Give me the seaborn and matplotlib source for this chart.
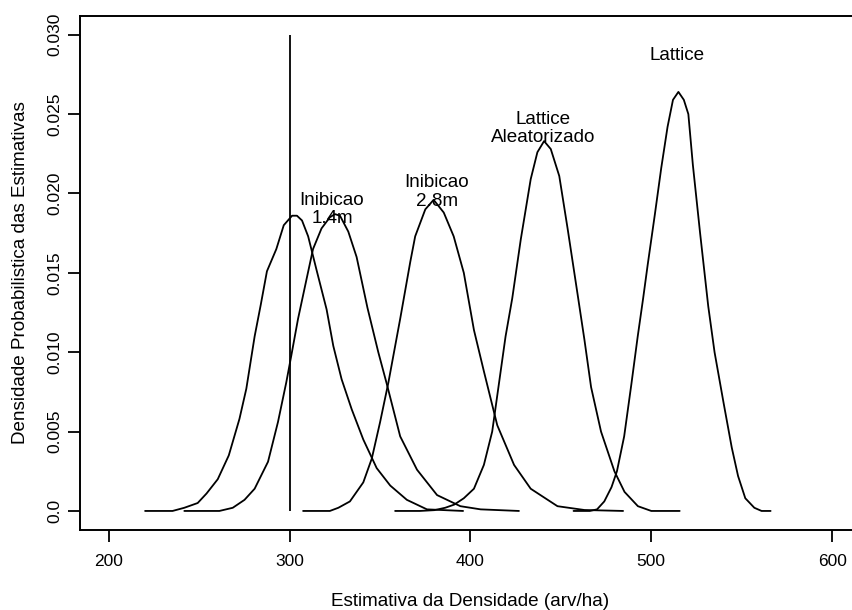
import matplotlib
matplotlib.use("Agg")
import matplotlib.pyplot as plt
import seaborn as sns
import pandas as pd

# Density curves of the estimates (x = arv/ha, y = probability density)
x_ref = [220.0, 235.2, 241.7, 249.1, 254.0, 260.2, 266.3, 272.2, 276.0, 280.6, 284.0,
         287.4, 292.6, 296.7, 301.3, 304.0, 306.8, 310.2, 314.8, 320.4, 324.1, 328.7,
         334.3, 340.7, 348.1, 355.6, 364.8, 375.9, 395.9]
y_ref = [0.0, 0.0, 0.0002, 0.0005, 0.0011, 0.0020, 0.0035, 0.0058, 0.0077, 0.0110, 0.0130,
         0.0151, 0.0165, 0.0180, 0.0186, 0.0186, 0.0183, 0.0173, 0.0152, 0.0127, 0.0104,
         0.0083, 0.0064, 0.0045, 0.0027, 0.0016, 0.0007, 0.0001, 0.0]

x_inib14 = [241.7, 261.1, 268.5, 275.0, 280.6, 288.0, 293.5, 298.1, 300.9, 304.6, 309.3,
            312.9, 317.6, 322.2, 325.0, 327.8, 332.4, 337.0, 343.0, 349.0, 353.7, 361.1,
            370.4, 381.5, 394.4, 405.6, 426.8]
y_inib14 = [0.0, 0.0, 0.0002, 0.0007, 0.0014, 0.0031, 0.0056, 0.0081, 0.0098, 0.0121, 0.0146,
            0.0165, 0.0178, 0.0185, 0.0187, 0.0186, 0.0176, 0.0160, 0.0128, 0.0100, 0.0080,
            0.0047, 0.0026, 0.0010, 0.0003, 0.0001, 0.0]

x_inib28 = [307.4, 322.2, 326.9, 333.3, 340.7, 345.4, 350.0, 354.6, 361.1, 366.7, 369.4,
            375.0, 379.6, 385.2, 390.7, 396.3, 401.9, 407.4, 414.8, 424.1, 433.3, 448.1,
            463.0, 484.4]
y_inib28 = [0.0, 0.0, 0.0002, 0.0006, 0.0018, 0.0033, 0.0056, 0.0081, 0.0121, 0.0157, 0.0173,
            0.0190, 0.0196, 0.0188, 0.0173, 0.0150, 0.0114, 0.0088, 0.0054, 0.0029, 0.0014,
            0.0003, 0.00006, 0.0]

x_lat_alea = [358.3, 372.0, 380.0, 386.0, 391.0, 396.3, 401.9, 407.4, 412.0, 415.7, 419.4,
              423.1, 427.8, 433.3, 437.0, 440.7, 444.4, 449.1, 453.7, 459.3, 463.0, 466.7,
              472.2, 479.6, 485.2, 492.6, 500.0, 515.7]
y_lat_alea = [0.0, 0.0, 0.00005, 0.0002, 0.0004, 0.0008, 0.0014, 0.0029, 0.0050, 0.0080, 0.0110,
              0.0134, 0.0171, 0.0209, 0.0226, 0.0233, 0.0228, 0.0211, 0.0178, 0.0136, 0.0108,
              0.0078, 0.0050, 0.0025, 0.0012, 0.0003, 0.0, 0.0]

x_lattice = [457.0, 466.0, 470.0, 474.0, 478.0, 481.0, 485.0, 489.0, 492.5, 495.5, 498.0,
             502.0, 505.5, 509.0, 512.0, 515.0, 518.0, 520.5, 523.0, 527.0, 531.5, 535.0,
             540.0, 544.5, 548.0, 552.0, 557.0, 561.0, 566.0]
y_lattice = [0.0, 0.0, 0.0001, 0.0006, 0.0015, 0.0025, 0.0047, 0.0080, 0.0110, 0.0134, 0.0155,
             0.0187, 0.0216, 0.0242, 0.0259, 0.0264, 0.0259, 0.0250, 0.0218, 0.0175, 0.0129,
             0.0100, 0.0068, 0.0040, 0.0022, 0.0008, 0.0002, 0.0, 0.0]

# Reference density (true value) drawn as a vertical line
ref_value = 300
ref_top = 0.030

# Curve labels
label_text = ["Inibicao\n1.4m", "Inibicao\n2.8m", "Lattice\nAleatorizado", "Lattice"]
label_x = [323.4, 381.5, 440.4, 514.1]
label_y = [0.0190, 0.0201, 0.0241, 0.0287]

x_ticks = [200, 300, 400, 500, 600]
y_ticks = [0.0, 0.005, 0.010, 0.015, 0.020, 0.025, 0.030]
y_tick_labels = ["0.0", "0.005", "0.010", "0.015", "0.020", "0.025", "0.030"]

sns.set_theme(style="white")
plt.rcParams["font.family"] = ["Liberation Sans", "DejaVu Sans"]

TICK_FS = 12.5
TEXT_FS = 13.6
fig = plt.figure(figsize=(8.52, 6.10), dpi=100)
ax = fig.add_axes([80 / 852, 80 / 610, 781 / 852, 514.3 / 610])

curves = [(x_ref, y_ref), (x_inib14, y_inib14), (x_inib28, y_inib28),
          (x_lat_alea, y_lat_alea), (x_lattice, y_lattice)]
for xs, ys in curves:
    df = pd.DataFrame({"x": xs, "y": ys})
    sns.lineplot(data=df, x="x", y="y", ax=ax, color="black", linewidth=1.3,
                 sort=False, estimator=None, legend=False)

ax.vlines(ref_value, 0, ref_top, color="black", linewidth=1.3)

for t, lx, ly in zip(label_text, label_x, label_y):
    ax.text(lx, ly, t, ha="center", va="center", fontsize=TEXT_FS, color="black",
            linespacing=1.1)

ax.set_xlim(184, 616)
ax.set_ylim(-0.0012, 0.0312)
ax.set_xticks(x_ticks)
ax.set_xticklabels([str(v) for v in x_ticks])
ax.set_yticks(y_ticks)
ax.set_yticklabels(y_tick_labels, rotation=90, va="center")

for s in ax.spines.values():
    s.set_color("black")
    s.set_linewidth(1.4)

ax.tick_params(axis="both", which="major", bottom=True, left=True, direction="out",
               length=8.6, width=1.3, color="black", labelsize=TICK_FS, labelcolor="black")
ax.tick_params(axis="x", pad=9)
ax.tick_params(axis="y", pad=4)

ax.set_xlabel("Estimativa da Densidade (arv/ha)", fontsize=TEXT_FS, color="black",
              labelpad=17)
ax.set_ylabel("Densidade Probabilistica das Estimativas", fontsize=TEXT_FS, color="black",
              labelpad=13)

fig.savefig("out.png", dpi=100)
